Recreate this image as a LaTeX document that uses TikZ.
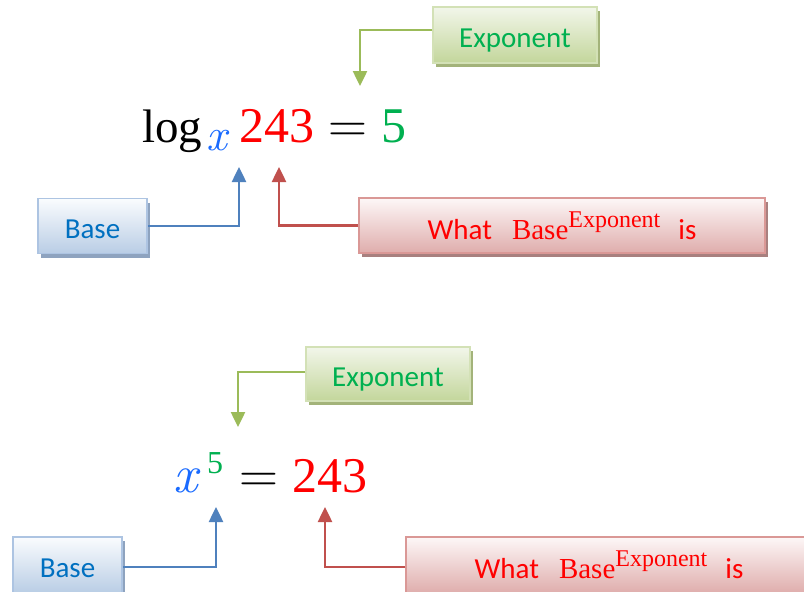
\documentclass[tikz,border=0pt]{standalone}
\usepackage{fontspec}
\usetikzlibrary{arrows.meta,shadows}
\newfontfamily\carlito{Carlito}
\newfontfamily\tnr{Liberation Serif}
\definecolor{gTop}{HTML}{F2F6EA}
\definecolor{gBot}{HTML}{C3D69B}
\definecolor{gBorder}{HTML}{D3E1B6}
\definecolor{gShadow}{HTML}{A3B37A}
\definecolor{gText}{HTML}{00B050}
\definecolor{bTop}{HTML}{FAFCFE}
\definecolor{bBot}{HTML}{B9CDE5}
\definecolor{bBorder}{HTML}{ADC4E2}
\definecolor{bShadow}{HTML}{8EA3BF}
\definecolor{bText}{HTML}{0070C0}
\definecolor{rTop}{HTML}{FDF7F7}
\definecolor{rBot}{HTML}{DFADAC}
\definecolor{rBorder}{HTML}{DA9896}
\definecolor{rShadow}{HTML}{A8807F}
\definecolor{aG}{HTML}{9BBB59}
\definecolor{aB}{HTML}{4F81BD}
\definecolor{aR}{HTML}{C0504D}
\definecolor{xBlue}{HTML}{1A6BFF}
\definecolor{fGreen}{HTML}{00B050}
\tikzset{
  box/.style={rectangle, inner sep=0pt, text depth=0pt, line width=1.5pt,
    font=\carlito\fontsize{29}{29}\selectfont},
  greenbox/.style={box, draw=gBorder, top color=gTop, bottom color=gBot,
    text=gText, minimum width=164pt, minimum height=56pt, text height=24pt,
    drop shadow={shadow xshift=3pt, shadow yshift=-4pt, fill=gShadow, opacity=1}},
  bluebox/.style={box, draw=bBorder, top color=bTop, bottom color=bBot,
    text=bText, minimum width=109pt, minimum height=55pt, text height=24pt,
    drop shadow={shadow xshift=3pt, shadow yshift=-4pt, fill=bShadow, opacity=1}},
  redbox/.style={box, draw=rBorder, top color=rTop, bottom color=rBot,
    text=red, minimum width=406pt, minimum height=55pt,
    drop shadow={shadow xshift=3pt, shadow yshift=-4pt, fill=rShadow, opacity=1}},
  conn/.style={line width=2.5pt, -{Triangle[width=14pt,length=15pt]}},
  big/.style={inner sep=0pt, anchor=base west, font=\tnr\fontsize{50}{50}\selectfont},
  eqsign/.style={inner sep=0pt, anchor=base, font=\fontsize{54}{54}\selectfont},
}
\newcommand{\whattext}{What\hspace{20pt}{\tnr Base\raisebox{12pt}{\fontsize{24}{24}\selectfont Exponent}}\hspace{18pt}is}
\begin{document}
\begin{tikzpicture}[x=1pt,y=-1pt]
\useasboundingbox (0,0) rectangle (804,592);
\clip (0,0) rectangle (804,592);
\fill[white] (0,0) rectangle (804,592);

% ---------- top: logarithm ----------
\node[greenbox] (exp1) at (515,35) {Exponent};
\node[bluebox] (base1) at (92.5,226) {Base};
\node[redbox] (what1) at (562,225.5) {\whattext};

\node[big, font=\tnr\fontsize{47}{47}\selectfont] (log) at (142,142) {log};
\node[big, text=xBlue, font=\fontsize{46}{46}\selectfont\itshape] (sub) at (206,150) {x};
\node[big, text=red] (n1) at (239,142) {243};
\node[eqsign] (eq1) at (348,142) {=};
\node[big, text=fGreen] (five) at (381,142) {5};

\coordinate (tG1) at (360,86);
\coordinate (tB1) at (239,167);
\coordinate (tR1) at (279,167);
\draw[conn, aG] ([yshift=5pt]exp1.west) -| (tG1);
\draw[conn, aB] (base1.east) -| (tB1);
\draw[conn, aR] (what1.west) -| (tR1);

% ---------- bottom: exponential ----------
\node[greenbox, minimum height=54pt] (exp2) at (388,374) {Exponent};
\node[bluebox, minimum height=56pt] (base2) at (67.5,565) {Base};
\node[redbox, minimum height=56pt] (what2) at (609,565) {\whattext};

\node[big, text=xBlue, font=\fontsize{54}{54}\selectfont\itshape] (xb) at (173,492) {x};
\node[big, text=fGreen, font=\tnr\fontsize{32}{32}\selectfont] (sup5) at (207,473) {5};
\node[eqsign] (eq2) at (259,492) {=};
\node[big, text=red] (n2) at (292,492) {243};

\coordinate (tG2) at (238,427);
\coordinate (tB2) at (216,507);
\coordinate (tR2) at (325,507);
\draw[conn, aG] ([yshift=2pt]exp2.west) -| (tG2);
\draw[conn, aB] ([yshift=-2pt]base2.east) -| (tB2);
\draw[conn, aR] ([yshift=-2pt]what2.west) -| (tR2);
\end{tikzpicture}
\end{document}
